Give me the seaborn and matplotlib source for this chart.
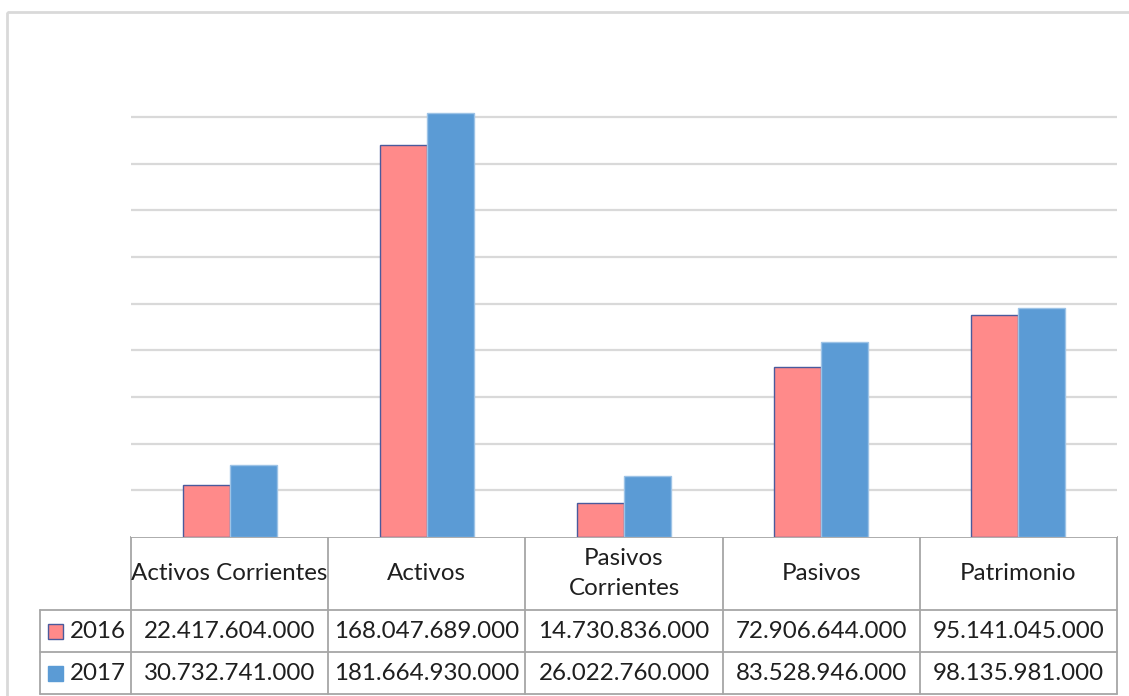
import matplotlib
matplotlib.use("Agg")
import matplotlib.pyplot as plt
import seaborn as sns
import pandas as pd
from matplotlib.patches import Rectangle

# Balance figures (pesos) for the two years
categories = ["Activos Corrientes", "Activos", "Pasivos Corrientes", "Pasivos", "Patrimonio"]
header_labels = ["Activos Corrientes", "Activos", "Pasivos\nCorrientes", "Pasivos", "Patrimonio"]
years = ["2016", "2017"]
values_2016 = [22417604000, 168047689000, 14730836000, 72906644000, 95141045000]
values_2017 = [30732741000, 181664930000, 26022760000, 83528946000, 98135981000]

colors = {"2016": "#FF8A8A", "2017": "#5B9BD5"}
edges = {"2016": "#4A5A9C", "2017": "#9DC3E6"}


def fmt(v):
    return f"{v:,.0f}".replace(",", ".")


df = pd.DataFrame({
    "categoria": categories * 2,
    "anio": ["2016"] * 5 + ["2017"] * 5,
    "valor": values_2016 + values_2017,
})

sns.set_theme(style="white")
plt.rcParams["font.family"] = ["Lato", "DejaVu Sans"]

W, H = 1129, 696
fig = plt.figure(figsize=(W / 100, H / 100), dpi=100)

# Outer chart frame
bg = fig.add_axes([0, 0, 1, 1])
bg.set_xlim(0, W)
bg.set_ylim(H, 0)
bg.axis("off")
bg.add_patch(Rectangle((7, 12), W + 20, H + 20, fill=False, edgecolor="#D9D9D9", linewidth=2))

# Plot area
x0, x1 = 131, 1117
y_zero, y_top = 537, 70.3
ax = fig.add_axes([x0 / W, (H - y_zero) / H, (x1 - x0) / W, (y_zero - y_top) / H])
sns.barplot(data=df, x="categoria", y="valor", hue="anio", order=categories, hue_order=years,
            palette=colors, width=0.477, gap=0, saturation=1, ax=ax, legend=False)
ax.set_ylim(0, 200e9)
ax.set_xlim(-0.5, 4.5)
for i, cont in enumerate(ax.containers):
    for p in cont.patches:
        p.set_edgecolor(edges[years[i]])
        p.set_linewidth(1.0)
        p.set_zorder(3)

gridvals = [20e9 * k for k in range(1, 10)]
for g in gridvals:
    ax.axhline(g, color="#D9D9D9", linewidth=1.6, zorder=1)
ax.set_xticks([])
ax.set_yticks([])
ax.set_xlabel("")
ax.set_ylabel("")
for s in ax.spines.values():
    s.set_visible(False)

# Data table below the plot area
line_c = "#A6A6A6"
lw = 1.3
col_w = (x1 - x0) / 5
col_x = [x0 + col_w * i for i in range(6)]
leg_x = 40
r0, r1, r2, r3 = 537, 610, 652, 694
txt_c = "#1F1F1F"
fs = 17.4

# horizontal lines
bg.plot([x0, x1], [r0, r0], color=line_c, lw=lw)
for r in (r1, r2, r3):
    bg.plot([leg_x, x1], [r, r], color=line_c, lw=lw)
# vertical lines
for cx in col_x:
    bg.plot([cx, cx], [r0, r3], color=line_c, lw=lw)
bg.plot([leg_x, leg_x], [r1, r3], color=line_c, lw=lw)

for i, lab in enumerate(header_labels):
    cx = (col_x[i] + col_x[i + 1]) / 2
    bg.text(cx, (r0 + r1) / 2, lab, ha="center", va="center", fontsize=fs,
            color=txt_c, linespacing=1.55)

for j, (yr, vals) in enumerate(zip(years, [values_2016, values_2017])):
    yc = (r1 + r2) / 2 if j == 0 else (r2 + r3) / 2
    bg.add_patch(Rectangle((48, yc - 7.5), 15, 15, facecolor=colors[yr],
                           edgecolor=edges[yr] if yr == "2016" else colors[yr], lw=1))
    bg.text(70, yc, yr, ha="left", va="center", fontsize=fs, color=txt_c)
    for i, v in enumerate(vals):
        cx = (col_x[i] + col_x[i + 1]) / 2
        bg.text(cx, yc, fmt(v), ha="center", va="center", fontsize=fs, color=txt_c)

fig.savefig("out.png", dpi=100)
